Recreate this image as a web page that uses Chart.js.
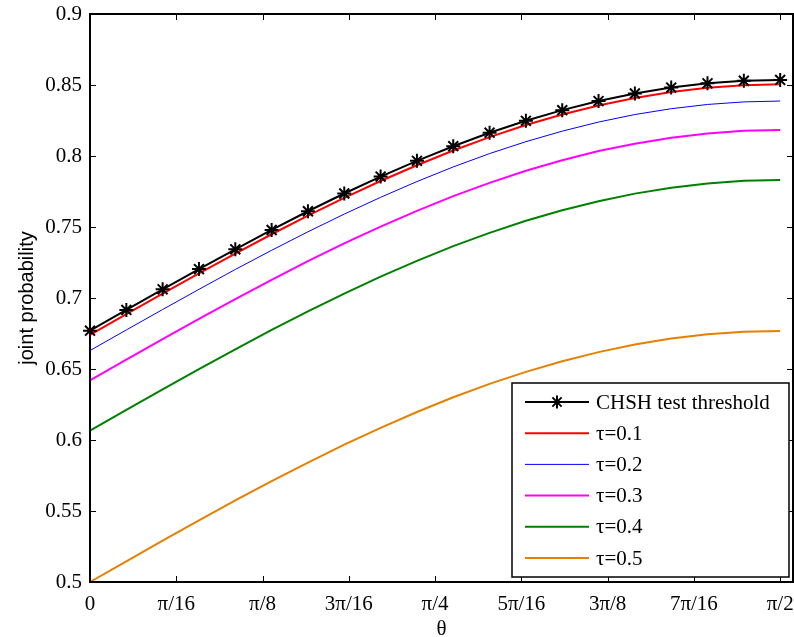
<!DOCTYPE html>
<html>
<head>
<meta charset="utf-8">
<script src="https://cdn.jsdelivr.net/npm/chart.js@4/dist/chart.umd.min.js"></script>
<style>
  html, body { margin: 0; padding: 0; background: #fff; }
  #wrap { width: 794px; height: 637px; position: relative; }
</style>
</head>
<body>
<div id="wrap"><canvas id="c" width="794" height="637"></canvas></div>
<script>
// theta sample points (radians), 0 .. pi/2
const thetaValues = [0, 0.0827, 0.1653, 0.2480, 0.3307, 0.4134, 0.4960, 0.5787, 0.6614, 0.7441,
  0.8267, 0.9094, 0.9921, 1.0748, 1.1574, 1.2401, 1.3228, 1.4054, 1.4881, 1.5708];

const chshValues = [0.6770, 0.6916, 0.7061, 0.7204, 0.7343, 0.7479, 0.7611, 0.7736, 0.7855, 0.7966,
  0.8069, 0.8164, 0.8248, 0.8323, 0.8387, 0.8440, 0.8482, 0.8512, 0.8530, 0.8536];
const tau01Values = [0.6740, 0.6886, 0.7030, 0.7173, 0.7313, 0.7449, 0.7580, 0.7705, 0.7824, 0.7935,
  0.8039, 0.8133, 0.8218, 0.8292, 0.8356, 0.8409, 0.8451, 0.8481, 0.8499, 0.8505];
const tau02Values = [0.6630, 0.6775, 0.6919, 0.7061, 0.7201, 0.7336, 0.7466, 0.7591, 0.7709, 0.7820,
  0.7923, 0.8017, 0.8101, 0.8175, 0.8239, 0.8292, 0.8333, 0.8363, 0.8381, 0.8387];
const tau03Values = [0.6420, 0.6566, 0.6710, 0.6853, 0.6992, 0.7128, 0.7259, 0.7384, 0.7503, 0.7614,
  0.7717, 0.7811, 0.7896, 0.7970, 0.8035, 0.8087, 0.8129, 0.8159, 0.8177, 0.8183];
const tau04Values = [0.6066, 0.6212, 0.6357, 0.6499, 0.6639, 0.6775, 0.6906, 0.7031, 0.7150, 0.7261,
  0.7365, 0.7459, 0.7544, 0.7618, 0.7682, 0.7735, 0.7777, 0.7807, 0.7825, 0.7831];
const tau05Values = [0.5000, 0.5146, 0.5291, 0.5434, 0.5574, 0.5710, 0.5841, 0.5967, 0.6086, 0.6197,
  0.6301, 0.6395, 0.6480, 0.6555, 0.6619, 0.6672, 0.6714, 0.6744, 0.6762, 0.6768];

const seriesLabels = ['CHSH test threshold', 'τ=0.1', 'τ=0.2', 'τ=0.3', 'τ=0.4', 'τ=0.5'];

const xTickValues = [0, 0.19635, 0.39270, 0.58905, 0.78540, 0.98175, 1.17810, 1.37445, 1.57080];
const xTickLabels = ['0', 'π/16', 'π/8', '3π/16', 'π/4', '5π/16', '3π/8', '7π/16', 'π/2'];
const yTickLabels = ['0.5', '0.55', '0.6', '0.65', '0.7', '0.75', '0.8', '0.85', '0.9'];

const SERIF = "'Liberation Serif', 'Times New Roman', serif";
const SANS = "'Liberation Sans', Arial, sans-serif";

function pts(ys) { return thetaValues.map((x, i) => ({ x: x, y: ys[i] })); }

const styles = [
  { color: '#000000', width: 2, marker: true },
  { color: '#ff0000', width: 2 },
  { color: '#0000ff', width: 1 },
  { color: '#ff00ff', width: 2 },
  { color: '#008000', width: 2 },
  { color: '#e68000', width: 2 }
];
const seriesData = [chshValues, tau01Values, tau02Values, tau03Values, tau04Values, tau05Values];

const datasets = seriesData.map((ys, i) => ({
  label: seriesLabels[i],
  data: pts(ys),
  borderColor: styles[i].color,
  backgroundColor: styles[i].color,
  borderWidth: styles[i].width,
  pointStyle: 'star',
  pointRadius: styles[i].marker ? 7 : 0,
  pointBorderWidth: 2,
  pointBorderColor: styles[i].color,
  tension: 0,
  fill: false,
  clip: false
}));

const framePlugin = {
  id: 'frame',
  afterDatasetsDraw(chart) {
    const ctx = chart.ctx, a = chart.chartArea;
    const xs = chart.scales.x, ys = chart.scales.y;
    ctx.save();
    ctx.strokeStyle = '#000';
    ctx.lineWidth = 1;
    ctx.beginPath();
    xTickValues.forEach(v => {
      const px = Math.round(xs.getPixelForValue(v)) + 0.5;
      ctx.moveTo(px, a.bottom); ctx.lineTo(px, a.bottom - 6);
      ctx.moveTo(px, a.top); ctx.lineTo(px, a.top + 6);
    });
    yTickLabels.forEach(l => {
      const py = Math.round(ys.getPixelForValue(parseFloat(l))) + 0.5;
      ctx.moveTo(a.left, py); ctx.lineTo(a.left + 6, py);
      ctx.moveTo(a.right, py); ctx.lineTo(a.right - 6, py);
    });
    ctx.stroke();
    ctx.lineWidth = 2;
    ctx.strokeRect(a.left, a.top, a.right - a.left, a.bottom - a.top);

    // legend box
    const bw = 277, bh = 194;
    const bx = a.right - 4 - bw, by = a.bottom - 5 - bh;
    ctx.fillStyle = '#fff';
    ctx.fillRect(bx, by, bw, bh);
    ctx.lineWidth = 1.5;
    ctx.strokeRect(bx, by, bw, bh);
    ctx.font = '21px ' + SERIF;
    ctx.textBaseline = 'middle';
    ctx.textAlign = 'left';
    chart.data.datasets.forEach((ds, i) => {
      const ry = by + 19 + i * 31.2;
      ctx.strokeStyle = ds.borderColor;
      ctx.lineWidth = ds.borderWidth;
      ctx.beginPath();
      ctx.moveTo(bx + 13, ry); ctx.lineTo(bx + 77, ry);
      ctx.stroke();
      if (ds.pointRadius > 0) {
        const cx = bx + 45, r = 6.5;
        ctx.lineWidth = 2;
        ctx.beginPath();
        for (let k = 0; k < 4; k++) {
          const ang = k * Math.PI / 4;
          ctx.moveTo(cx - r * Math.cos(ang), ry - r * Math.sin(ang));
          ctx.lineTo(cx + r * Math.cos(ang), ry + r * Math.sin(ang));
        }
        ctx.stroke();
      }
      ctx.fillStyle = '#000';
      ctx.fillText(ds.label, bx + 84, ry + 1);
    });
    ctx.restore();
  }
};

new Chart(document.getElementById('c'), {
  type: 'line',
  data: { datasets: datasets },
  plugins: [framePlugin],
  options: {
    responsive: false,
    animation: false,
    devicePixelRatio: 1,
    layout: { autoPadding: false, padding: { left: 0, top: 14, right: 1, bottom: 0 } },
    plugins: { legend: { display: false }, tooltip: { enabled: false } },
    scales: {
      x: {
        type: 'linear', min: 0, max: 1.6,
        afterBuildTicks: s => { s.ticks = xTickValues.map(v => ({ value: v })); },
        afterFit: s => { s.height = 55; s.paddingLeft = 0; s.paddingRight = 0; s.paddingTop = 0; s.paddingBottom = 0; },
        grid: { display: false, drawTicks: false },
        border: { display: false },
        ticks: {
          autoSkip: false, maxRotation: 0, minRotation: 0, padding: 10,
          color: '#000', font: { family: SERIF, size: 21 },
          callback: (v, i) => xTickLabels[i]
        },
        title: { display: true, text: 'θ', color: '#000', font: { family: SERIF, size: 21 }, padding: { top: -5, bottom: -5 } }
      },
      y: {
        type: 'linear', min: 0.5, max: 0.9,
        afterBuildTicks: s => { s.ticks = yTickLabels.map(l => ({ value: parseFloat(l) })); },
        afterFit: s => { s.width = 90; s.paddingLeft = 0; s.paddingRight = 0; s.paddingTop = 0; s.paddingBottom = 0; },
        grid: { display: false, drawTicks: false },
        border: { display: false },
        ticks: {
          padding: 8, color: '#000', font: { family: SERIF, size: 21 },
          callback: (v, i) => yTickLabels[i]
        },
        title: { display: true, text: 'joint probability', color: '#000', font: { family: SANS, size: 20 }, padding: { top: 15, bottom: 0 } }
      }
    }
  }
});
</script>
</body>
</html>
